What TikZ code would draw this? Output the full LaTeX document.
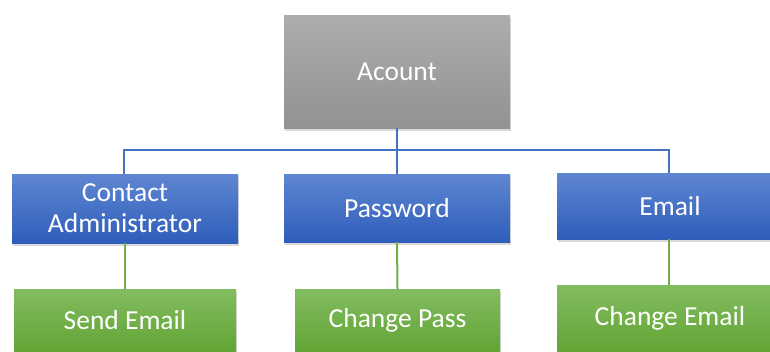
\documentclass[tikz,border=0pt]{standalone}
\usepackage{fontspec}
\setmainfont{Carlito}
\usetikzlibrary{shadows}
\definecolor{grayTop}{HTML}{ADADAD}
\definecolor{grayBot}{HTML}{929292}
\definecolor{blueTop}{HTML}{5F86D2}
\definecolor{blueBot}{HTML}{2E5DBA}
\definecolor{greenTop}{HTML}{82BC60}
\definecolor{greenBot}{HTML}{62A535}
\definecolor{blueLine}{HTML}{4472C4}
\definecolor{greenLine}{HTML}{70AD47}
\tikzset{
  box/.style={rectangle, text=white, align=center, inner sep=0pt,
    font=\fontsize{27.5}{31}\selectfont,
    drop shadow={opacity=0.3, shadow xshift=1pt, shadow yshift=-2.5pt}},
  rootbox/.style={box, top color=grayTop, bottom color=grayBot},
  midbox/.style={box, top color=blueTop, bottom color=blueBot},
  leafbox/.style={box, top color=greenTop, bottom color=greenBot},
  bluelink/.style={draw=blueLine, line width=2pt},
  greenlink/.style={draw=greenLine, line width=2pt},
}
\begin{document}
\begin{tikzpicture}[x=1pt, y=-1pt]
\useasboundingbox (0,0) rectangle (770,351);
\clip (0,0) rectangle (770,351);

% ends of the horizontal bus
\coordinate (busL) at (124,150);
\coordinate (busR) at (669,150);

% root
\node[rootbox, minimum width=226pt, minimum height=113pt] (acc) at (397,71.5) {Acount};

% second level
\node[midbox, minimum width=226pt, minimum height=69pt] (contact) at (125,208.5) {Contact\\Administrator};
\node[midbox, minimum width=226pt, minimum height=68pt] (pass) at (397,208) {Password};
\node[midbox, minimum width=226pt, minimum height=66pt] (mail) at (670,206) {Email};

% leaves
\node[leafbox, minimum width=222pt, minimum height=62pt] (send) at (125,320) {Send Email};
\node[leafbox, minimum width=205pt, minimum height=62pt] (chpass) at (397.5,320) {Change Pass};
\node[leafbox, minimum width=226pt, minimum height=66pt] (chmail) at (670,318) {Change Email};

% tree connectors
\draw[bluelink] (acc.south) -- (pass.north);
\draw[bluelink] (contact.north -| busL) -- (busL) -- (busR) -- (mail.north -| busR);
\draw[greenlink] (contact.south) -- (send.north);
\draw[greenlink] (pass.south) -- (chpass.north);
\draw[greenlink] (mail.south -| busR) -- (chmail.north -| busR);
\end{tikzpicture}
\end{document}
